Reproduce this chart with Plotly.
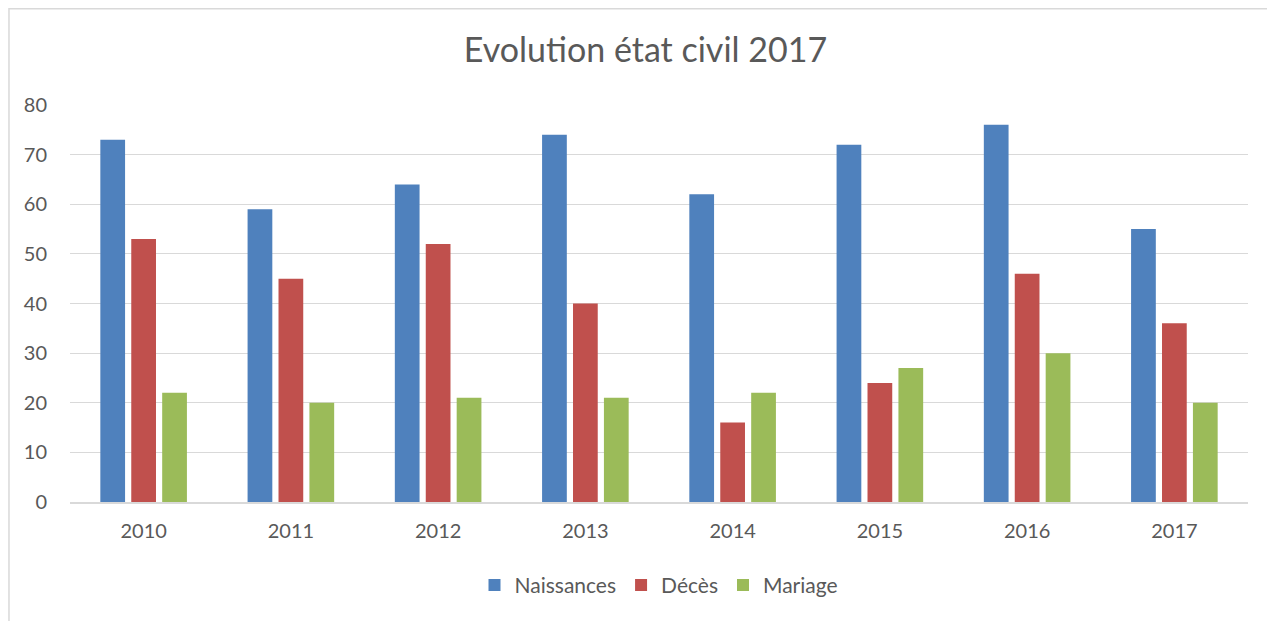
import plotly.graph_objects as go

years = ["2010", "2011", "2012", "2013", "2014", "2015", "2016", "2017"]
naissances = [73, 59, 64, 74, 62, 72, 76, 55]
deces = [53, 45, 52, 40, 16, 24, 46, 36]
mariage = [22, 20, 21, 21, 22, 27, 30, 20]

series = [("Naissances", naissances, "#4F81BD"),
          ("Décès", deces, "#C0504D"),
          ("Mariage", mariage, "#9BBB59")]

fig = go.Figure()
for name, vals, col in series:
    fig.add_trace(go.Bar(x=years, y=vals, name=name, marker_color=col,
                         marker_line_width=0))

fig.update_layout(
    width=1275, height=621,
    paper_bgcolor="white", plot_bgcolor="white",
    font=dict(family="Lato, Open Sans, sans-serif", color="#595959", size=20),
    title=dict(text="Evolution état civil 2017", x=0.5, xanchor="center",
               y=0.932, yanchor="middle", font=dict(size=34, color="#595959")),
    margin=dict(l=62, r=35, t=97, b=127),
    barmode="group", bargap=0.37, bargroupgap=0.2,
    legend=dict(orientation="h", x=0.5, xanchor="center", y=-0.21, yanchor="middle",
                font=dict(size=21), itemwidth=30, traceorder="normal"),
    xaxis=dict(showgrid=False, showline=True, linecolor="#D9D9D9", linewidth=1.5,
               ticks="", tickfont=dict(size=20), ticklabelstandoff=10),
    yaxis=dict(range=[0, 80], dtick=10, showgrid=True, gridcolor="#D9D9D9",
               gridwidth=1.3, zeroline=False, showline=False, ticks="",
               tickfont=dict(size=20), ticklabelstandoff=22),
    shapes=[dict(type="rect", xref="paper", yref="paper",
                 x0=-0.0518, x1=1.2, y0=-0.6, y1=1.2424,
                 line=dict(color="#D9D9D9", width=1.5), fillcolor="rgba(0,0,0,0)",
                 layer="below")],
)
fig.write_html("out.html")
